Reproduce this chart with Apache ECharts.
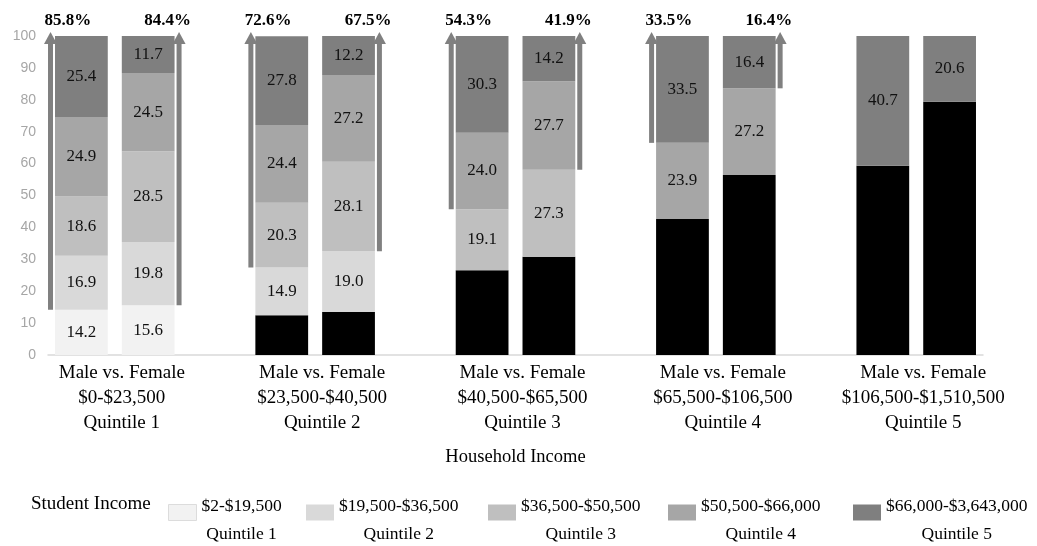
<!DOCTYPE html>
<html>
<head>
<meta charset="utf-8">
<script src="https://cdn.jsdelivr.net/npm/echarts@6/dist/echarts.min.js"></script>
<style>
  html, body { margin: 0; padding: 0; background: #fff; }
  #chart { width: 1037px; height: 546px; }
</style>
</head>
<body>
<div id="chart"></div>
<script>
// categorias: 5 grupos Male/Female con un hueco entre grupos
const categories = ['M1', 'F1', 'gap1', 'M2', 'F2', 'gap2', 'M3', 'F3', 'gap3', 'M4', 'F4', 'gap4', 'M5', 'F5'];
const groupStarts = [0, 3, 6, 9, 12];
const householdLabels = [
  'Male vs. Female\n$0-$23,500\nQuintile 1',
  'Male vs. Female\n$23,500-$40,500\nQuintile 2',
  'Male vs. Female\n$40,500-$65,500\nQuintile 3',
  'Male vs. Female\n$65,500-$106,500\nQuintile 4',
  'Male vs. Female\n$106,500-$1,510,500\nQuintile 5'
];
const studentRanges = ['$2-$19,500', '$19,500-$36,500', '$36,500-$50,500', '$50,500-$66,000', '$66,000-$3,643,000'];

// porcentajes (el negro = quintiles por debajo del quintil del hogar)
const belowShare = [null, null, null, 12.5, 13.5, null, 26.6, 30.8, null, 42.6, 56.4, null, 59.3, 79.4];
const q1Share = [14.2, 15.6, null, null, null, null, null, null, null, null, null, null, null, null];
const q2Share = [16.9, 19.8, null, 14.9, 19.0, null, null, null, null, null, null, null, null, null];
const q3Share = [18.6, 28.5, null, 20.3, 28.1, null, 19.1, 27.3, null, null, null, null, null, null];
const q4Share = [24.9, 24.5, null, 24.4, 27.2, null, 24.0, 27.7, null, 23.9, 27.2, null, null, null];
const q5Share = [25.4, 11.7, null, 27.8, 12.2, null, 30.3, 14.2, null, 33.5, 16.4, null, 40.7, 20.6];
// flechas: % en el quintil del hogar o por encima
const atOrAbove = [85.8, 84.4, null, 72.6, 67.5, null, 54.3, 41.9, null, 33.5, 16.4, null, null, null];

const COLORS = ['#f2f2f2', '#d9d9d9', '#bfbfbf', '#a6a6a6', '#7f7f7f'];
const ARROW = '#808080';
const SERIF = '"Liberation Serif", "Times New Roman", serif';
const BAR_RATIO = 0.79;

const chart = echarts.init(document.getElementById('chart'));

const quintileData = [q1Share, q2Share, q3Share, q4Share, q5Share];

const barSeries = [{
  name: 'below',
  type: 'bar',
  stack: 'total',
  barWidth: (BAR_RATIO * 100) + '%',
  data: belowShare,
  itemStyle: { color: '#000' },
  label: { show: false }
}].concat(quintileData.map((arr, i) => ({
  name: studentRanges[i],
  type: 'bar',
  stack: 'total',
  barWidth: (BAR_RATIO * 100) + '%',
  data: arr,
  itemStyle: { color: COLORS[i] },
  label: {
    show: true,
    position: 'inside',
    formatter: p => p.value.toFixed(1),
    color: '#111',
    fontFamily: SERIF,
    fontSize: 17
  }
})));

const arrowData = [];
atOrAbove.forEach((v, i) => {
  if (v == null) return;
  arrowData.push([i, v, i % 3 === 0 ? -1 : 1]);
});

function renderArrow(params, api) {
  const cat = api.value(0), pct = api.value(1), side = api.value(2);
  const base = api.coord([cat, 100 - pct]);
  const top = api.coord([cat, 100]);
  const half = api.size([1, 0])[0] * BAR_RATIO / 2;
  const x = base[0] + side * (half + 4.5);
  const tipY = top[1] - 4;
  return {
    type: 'group',
    children: [
      { type: 'rect', shape: { x: x - 2.5, y: tipY + 8, width: 5, height: base[1] - tipY - 8 }, style: { fill: ARROW } },
      { type: 'polygon', shape: { points: [[x, tipY], [x - 6.5, tipY + 12], [x + 6.5, tipY + 12]] }, style: { fill: ARROW } },
      {
        type: 'text',
        x: side < 0 ? x - 6 : x + 12,
        y: top[1] - 15,
        style: {
          text: pct.toFixed(1) + '%',
          textAlign: side < 0 ? 'left' : 'right',
          textVerticalAlign: 'middle',
          fontFamily: SERIF, fontSize: 17, fontWeight: 'bold',
          fill: '#000'
        }
      }
    ]
  };
}

function renderGroupLabel(params, api) {
  const i = api.value(0);
  const a = api.coord([i, 0]);
  const b = api.coord([i + 1, 0]);
  return {
    type: 'text',
    x: (a[0] + b[0]) / 2 + 7,
    y: a[1] + 6,
    style: {
      text: householdLabels[params.dataIndex],
      textAlign: 'center',
      textVerticalAlign: 'top',
      fontFamily: SERIF, fontSize: 19,
      lineHeight: 25,
      fill: '#000'
    }
  };
}

const legendLeft = [168, 306, 488, 668, 853];
const legends = studentRanges.map((name, i) => ({
  data: [name],
  left: legendLeft[i],
  top: 497,
  padding: 0,
  icon: 'rect',
  itemWidth: 28,
  itemHeight: 16,
  selectedMode: false,
  itemStyle: i === 0 ? { borderColor: '#dcdcdc', borderWidth: 1 } : {},
  formatter: n => `{a|${n}}\n{a|Quintile ${i + 1}}`,
  textStyle: {
    padding: [15, 0, 0, 0],
    rich: {
      a: { align: 'center', fontFamily: SERIF, fontSize: 17.5, lineHeight: 28, color: '#000' }
    }
  }
}));

chart.setOption({
  animation: false,
  backgroundColor: '#fff',
  grid: { left: 48, right: 54, top: 36, bottom: 191 },
  legend: legends,
  graphic: [{
    type: 'text',
    left: 31,
    top: 495,
    style: { text: 'Student Income', fontFamily: SERIF, fontSize: 19, fill: '#000' }
  }],
  xAxis: {
    type: 'category',
    data: categories,
    axisLine: { lineStyle: { color: '#d9d9d9', width: 1.5 } },
    axisTick: { show: false },
    axisLabel: { show: false },
    name: 'Household Income',
    nameLocation: 'middle',
    nameGap: 93,
    nameTextStyle: { fontFamily: SERIF, fontSize: 18.5, color: '#000' }
  },
  yAxis: {
    type: 'value',
    min: 0,
    max: 100,
    interval: 10,
    axisLine: { show: false },
    axisTick: { show: false },
    splitLine: { show: false },
    axisLabel: { color: '#a6a6a6', fontFamily: '"Liberation Sans", Arial, sans-serif', fontSize: 14, margin: 12 }
  },
  series: barSeries.concat([
    {
      type: 'custom',
      name: 'arrows',
      renderItem: renderArrow,
      data: arrowData,
      z: 5,
      silent: true
    },
    {
      type: 'custom',
      name: 'groupLabels',
      renderItem: renderGroupLabel,
      data: groupStarts.map(i => [i]),
      silent: true
    }
  ])
});
</script>
</body>
</html>
